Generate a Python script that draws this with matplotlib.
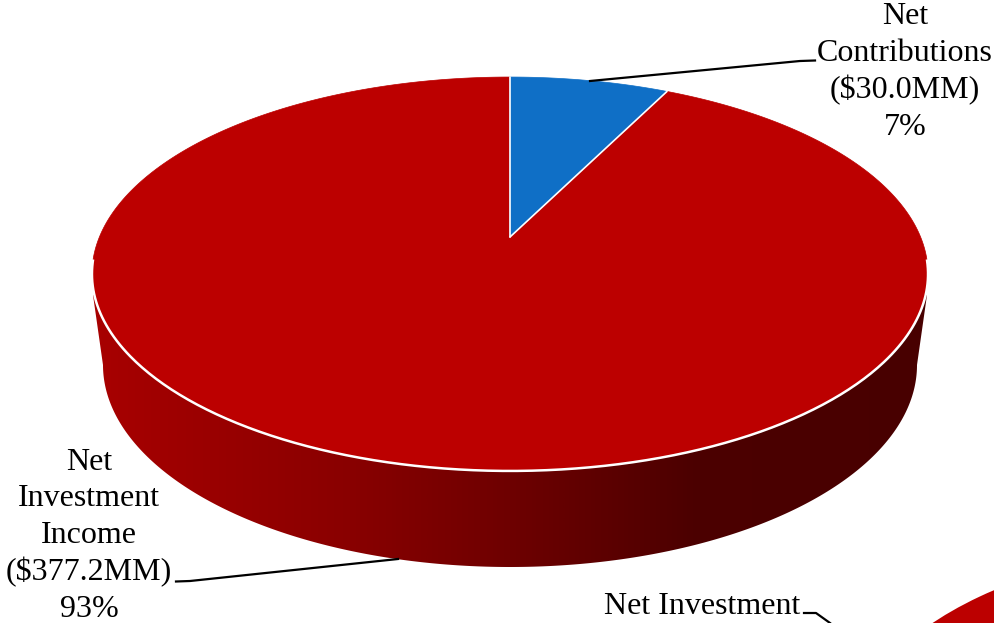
"""Tilted 3D-look pie of net contributions vs net investment income."""
import numpy as np
import matplotlib
matplotlib.use("Agg")
import matplotlib.pyplot as plt
from matplotlib.colors import LinearSegmentedColormap
from matplotlib.patches import Ellipse, Polygon

names = ["Net\nContributions", "Net\nInvestment\nIncome"]
values = [30.0, 377.2]
colors = ["#0F6FC6", "#BC0000"]
cut_off_label = "Net Investment"

plt.rcParams["font.family"] = ["Liberation Serif", "DejaVu Serif"]

W, H = 994, 623
CX, APEX_Y = 510, 237
TILT = 0.1878  # perspective strength
A_X, A_Y = 410.6, -145.5


def top_face(theta):
    # clockwise from 12 o'clock, unit circle pushed through the perspective map
    u, v = np.sin(theta), np.cos(theta)
    d = 1 + TILT * v
    return CX + A_X * u / d, (A_Y * v + APEX_Y) / d


def wedge_points(start, stop):
    t = np.linspace(start, stop, 1500)
    x, y = top_face(t)
    return np.column_stack([np.r_[CX, x], np.r_[APEX_Y, y]])


fig = plt.figure(figsize=(W / 100, H / 100), dpi=100)
ax = fig.add_axes([0, 0, 1, 1])
ax.axis("off")

# side wall, horizontal shading clipped to the band under the top face
t2 = np.linspace(np.pi, 0, 400)
low_x = CX + 407 * np.cos(t2)
low_y = 365 + 202 * np.sin(t2)
wall = Polygon(np.column_stack([np.r_[93, low_x, 927], np.r_[295, low_y, 295]]),
               closed=True, fc="none", ec="none")
ax.add_patch(wall)
shade = LinearSegmentedColormap.from_list(
    "wall", [(0, "#A80000"), (0.3, "#8A0000"), (0.5, "#6E0000"), (0.72, "#4C0000"), (1, "#480000")])
img = ax.imshow(np.linspace(0, 1, 512)[None, :], cmap=shade, extent=(92, 928, 570, 290),
                aspect="auto", zorder=1)
img.set_clip_path(wall)
ax.set_xlim(0, W)
ax.set_ylim(H, 0)

# top face, slices follow the values
edges = np.r_[0, np.cumsum(values)] / np.sum(values) * 2 * np.pi
for i in [1, 0]:
    ax.add_patch(Polygon(wedge_points(edges[i], edges[i + 1]), closed=True, fc=colors[i],
                         ec=colors[i], lw=0.5, zorder=2))

# white rim only shows along the front, plus the two slice borders
rim = np.linspace(np.radians(97), np.radians(263), 300)
x, y = top_face(rim)
ax.plot(x, y, color="white", lw=1.8, zorder=3)
for e in edges[:2]:
    x, y = top_face(e)
    ax.plot([CX, x], [APEX_Y, y], color="white", lw=1.2, solid_capstyle="round", zorder=3)

# next chart on the page, only its corner is visible
ax.add_patch(Ellipse((1275, 736), 836, 394, fc=colors[1], ec="none", zorder=2))

pcts = [round(v / sum(values) * 100) for v in values]
texts = [f"{n}\n(${v:.1f}MM)\n{p}%" for n, v, p in zip(names, values, pcts)]
ax.text(905, 72, texts[0], ha="center", va="center", fontsize=23, linespacing=1.33, color="black")
ax.text(89, 536, texts[1], ha="center", va="center", fontsize=23, linespacing=1.33, color="black")
ax.text(702, 606, cut_off_label, ha="center", va="center", fontsize=23, color="black")

# leader lines
ax.plot([590, 800, 815], [81, 61, 60.5], color="black", lw=1.6, zorder=4)
ax.plot([398, 190, 176], [559, 581, 581.5], color="black", lw=1.6, zorder=4)
ax.plot([804, 816, 830], [613, 613, 623], color="black", lw=1.6, zorder=4)

fig.savefig("out.png", dpi=100)
plt.close(fig)
